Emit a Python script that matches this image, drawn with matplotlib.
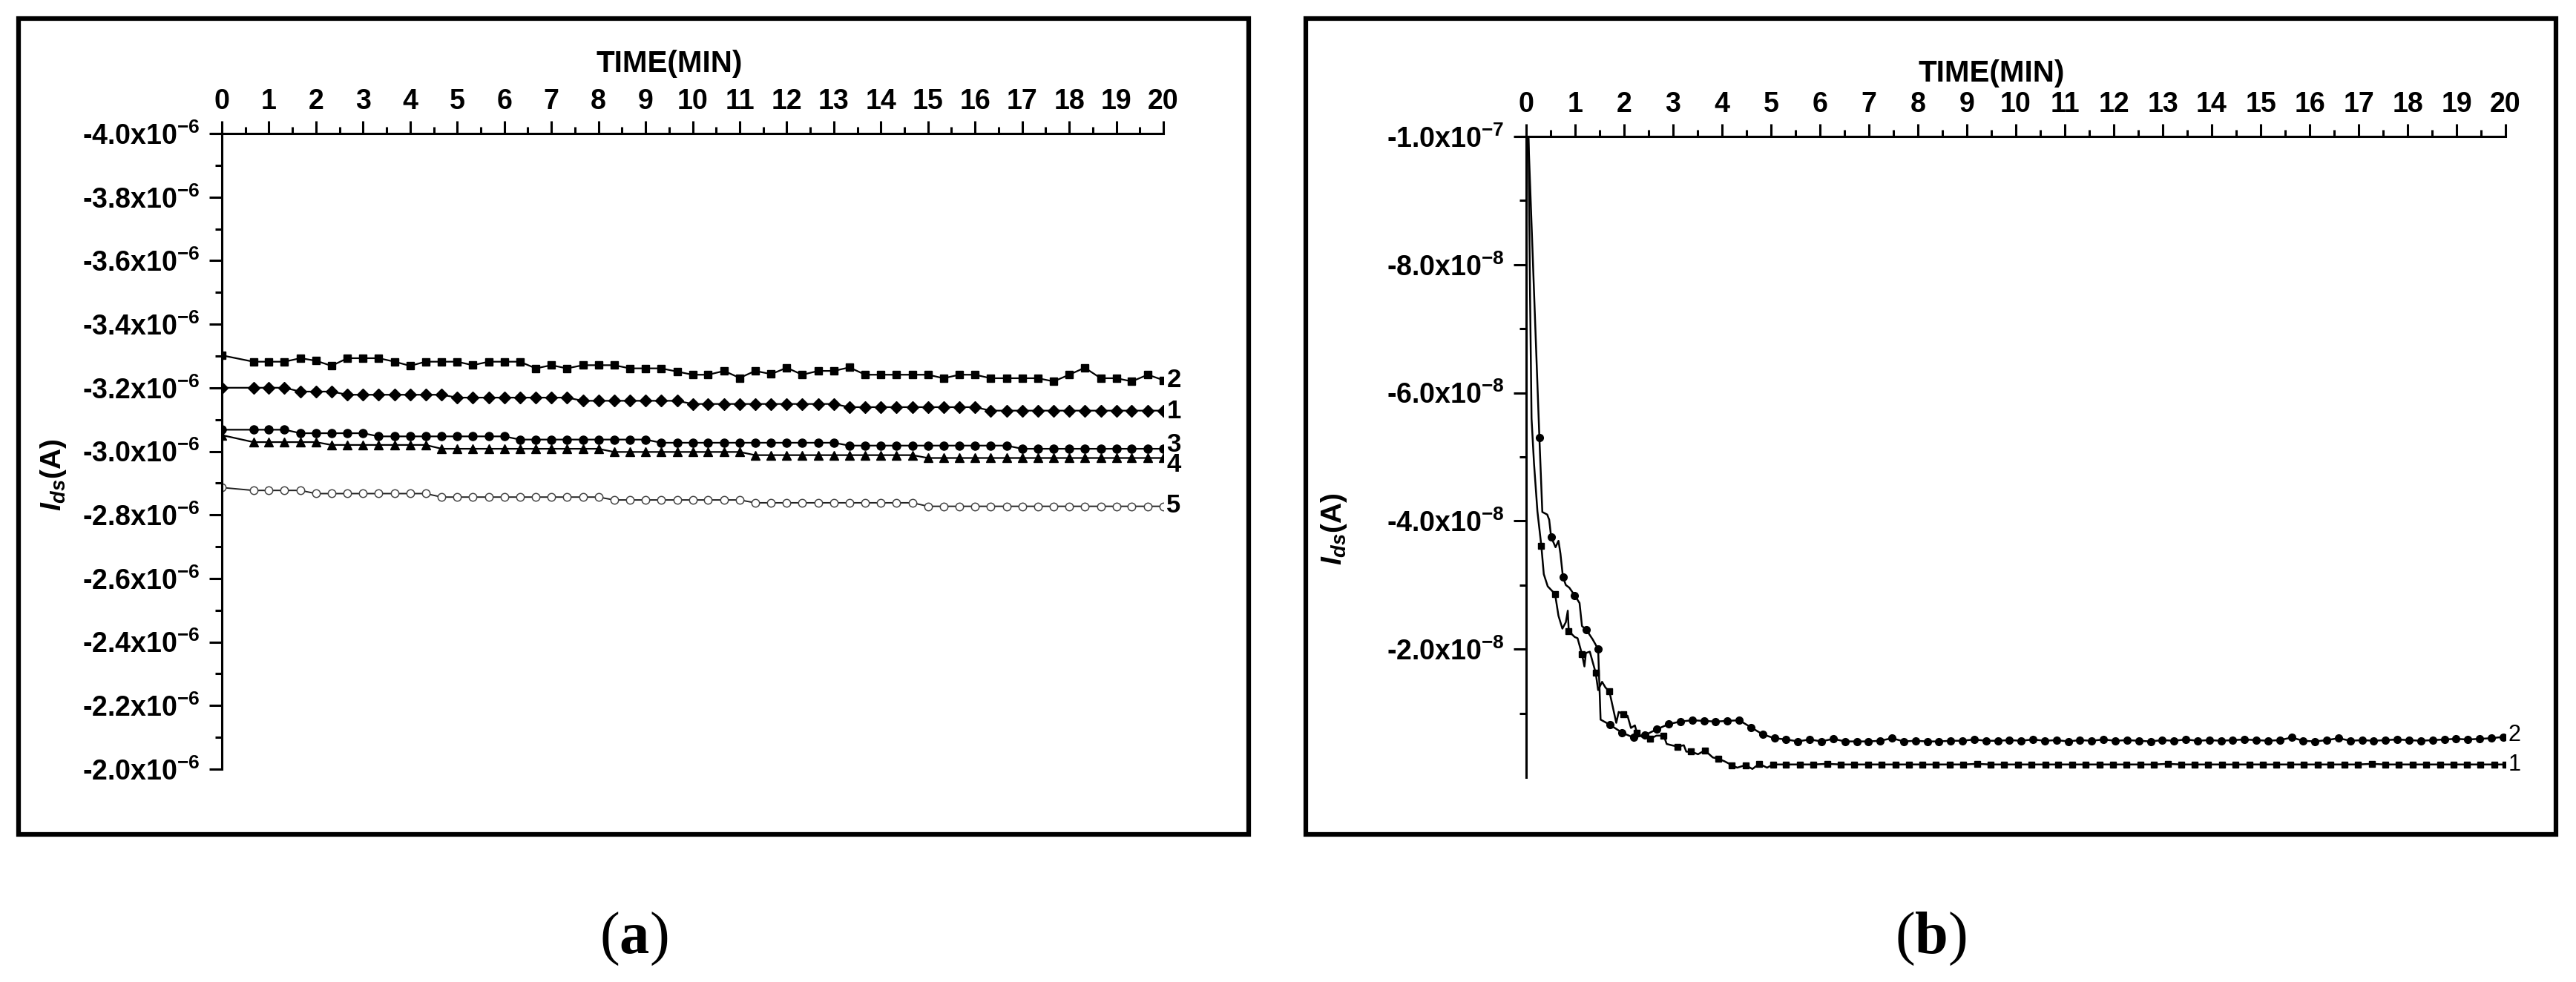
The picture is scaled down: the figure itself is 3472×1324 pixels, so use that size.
import matplotlib
matplotlib.use('Agg')
import matplotlib.pyplot as plt
import numpy as np
from matplotlib.patches import Rectangle
from matplotlib.ticker import FixedLocator, MultipleLocator

# ---------------- panel (a) data, I_ds in units of 1e-6 A ----------------
time_a = [0, 0.67, 1.0, 1.33, 1.67, 2.0, 2.33, 2.67, 3.0, 3.33, 3.67, 4.0, 4.33, 4.67,
          5.0, 5.33, 5.67, 6.0, 6.33, 6.67, 7.0, 7.33, 7.67, 8.0, 8.33, 8.67, 9.0, 9.33,
          9.67, 10.0, 10.33, 10.67, 11.0, 11.33, 11.67, 12.0, 12.33, 12.67, 13.0, 13.33,
          13.67, 14.0, 14.33, 14.67, 15.0, 15.33, 15.67, 16.0, 16.33, 16.67, 17.0, 17.33,
          17.67, 18.0, 18.33, 18.67, 19.0, 19.33, 19.67, 20.0]

ids_1 = [-3.200, -3.200, -3.200, -3.200, -3.188, -3.188, -3.188,
         -3.178, -3.178, -3.178, -3.178, -3.178, -3.178, -3.178,
         -3.169, -3.169, -3.169, -3.169, -3.169, -3.169, -3.169, -3.169,
         -3.159, -3.159, -3.159, -3.159, -3.159, -3.159, -3.159,
         -3.149, -3.149, -3.149, -3.149, -3.149, -3.149, -3.149, -3.149, -3.149, -3.149,
         -3.139, -3.139, -3.139, -3.139, -3.139, -3.139, -3.139, -3.139, -3.139,
         -3.128, -3.128, -3.128, -3.128, -3.128, -3.128, -3.128, -3.128, -3.128, -3.128,
         -3.128, -3.128]

ids_2 = [-3.302, -3.282, -3.282, -3.282, -3.293, -3.285, -3.269, -3.293, -3.293, -3.293,
         -3.282, -3.269, -3.282, -3.282, -3.282, -3.271, -3.282, -3.282, -3.282, -3.261,
         -3.271, -3.261, -3.271, -3.271, -3.271, -3.261, -3.261, -3.261, -3.251, -3.241,
         -3.241, -3.253, -3.231, -3.253, -3.243, -3.263, -3.241, -3.253, -3.253, -3.264,
         -3.241, -3.241, -3.241, -3.241, -3.241, -3.230, -3.241, -3.241, -3.230, -3.230,
         -3.230, -3.230, -3.220, -3.241, -3.263, -3.230, -3.230, -3.220, -3.241, -3.224]

ids_3 = [-3.068, -3.068, -3.068, -3.068,
         -3.057, -3.057, -3.057, -3.057, -3.057,
         -3.047, -3.047, -3.047, -3.047, -3.047, -3.047, -3.047, -3.047, -3.047,
         -3.037, -3.037, -3.037, -3.037, -3.037, -3.037, -3.037, -3.037, -3.037,
         -3.027, -3.027, -3.027, -3.027, -3.027, -3.027, -3.027, -3.027, -3.027, -3.027,
         -3.027, -3.027,
         -3.018, -3.018, -3.018, -3.018, -3.018, -3.018, -3.018, -3.018, -3.018, -3.018,
         -3.018,
         -3.008, -3.008, -3.008, -3.008, -3.008, -3.008, -3.008, -3.008, -3.008, -3.008]

ids_4 = [-3.051,
         -3.029, -3.029, -3.029, -3.029, -3.029,
         -3.020, -3.020, -3.020, -3.020, -3.020, -3.020, -3.020,
         -3.008, -3.008, -3.008, -3.008, -3.008, -3.008, -3.008, -3.008, -3.008, -3.008,
         -3.008,
         -2.998, -2.998, -2.998, -2.998, -2.998, -2.998, -2.998, -2.998, -2.998,
         -2.988, -2.988, -2.988, -2.988, -2.988, -2.988, -2.988, -2.988, -2.988, -2.988,
         -2.988,
         -2.979, -2.979, -2.979, -2.979, -2.979, -2.979, -2.979, -2.979, -2.979, -2.979,
         -2.979, -2.979, -2.979, -2.979, -2.979, -2.979]

ids_5 = [-2.886,
         -2.877, -2.877, -2.877, -2.877,
         -2.867, -2.867, -2.867, -2.867, -2.867, -2.867, -2.867, -2.867,
         -2.856, -2.856, -2.856, -2.856, -2.856, -2.856, -2.856, -2.856, -2.856, -2.856,
         -2.856,
         -2.847, -2.847, -2.847, -2.847, -2.847, -2.847, -2.847, -2.847, -2.847,
         -2.838, -2.838, -2.838, -2.838, -2.838, -2.838, -2.838, -2.838, -2.838, -2.838,
         -2.838,
         -2.827, -2.827, -2.827, -2.827, -2.827, -2.827, -2.827, -2.827, -2.827, -2.827,
         -2.827, -2.827, -2.827, -2.827, -2.827, -2.827]

labels_a = ['1', '2', '3', '4', '5']
label_pos_a = [-3.125, -3.225, -3.020, -2.957, -2.830]

yticks_a = [-4.0, -3.8, -3.6, -3.4, -3.2, -3.0, -2.8, -2.6, -2.4, -2.2, -2.0]
yminor_a = [-3.9, -3.7, -3.5, -3.3, -3.1, -2.9, -2.7, -2.5, -2.3, -2.1]

# ---------------- panel (b) data, I_ds in units of 1e-8 A ----------------
# curve 1: samples carrying a square symbol
b1_t_mark = [0.31, 0.59, 0.87, 1.14, 1.42, 1.70, 1.98, 2.26, 2.53, 2.81, 3.09, 3.37,
             3.65, 3.92, 4.20, 4.48, 4.76, 5.04, 5.31, 5.59, 5.87, 6.15, 6.43, 6.70,
             6.98, 7.26, 7.54, 7.82, 8.09, 8.37, 8.65, 8.93, 9.21, 9.48, 9.76, 10.04,
             10.32, 10.60, 10.87, 11.15, 11.43, 11.71, 11.99, 12.26, 12.54, 12.82, 13.10,
             13.38, 13.65, 13.93, 14.21, 14.49, 14.77, 15.04, 15.32, 15.60, 15.88, 16.16,
             16.43, 16.71, 16.99, 17.27, 17.55, 17.82, 18.10, 18.38, 18.66, 18.94, 19.21,
             19.49, 19.77, 20.00]
b1_i_mark = [-3.61, -2.86, -2.28, -1.92, -1.63, -1.34, -0.98, -0.70, -0.60, -0.65, -0.48,
             -0.40, -0.42, -0.29, -0.19, -0.19, -0.21, -0.20,
             -0.20, -0.20, -0.20, -0.21, -0.20, -0.20, -0.20, -0.20, -0.20,
             -0.20, -0.20, -0.20, -0.20, -0.20, -0.21, -0.20, -0.20, -0.20,
             -0.20, -0.20, -0.20, -0.20, -0.20, -0.20, -0.20, -0.20, -0.20,
             -0.20, -0.21, -0.20, -0.20, -0.20, -0.20, -0.20, -0.20, -0.20,
             -0.20, -0.20, -0.20, -0.20, -0.20, -0.20, -0.20, -0.21, -0.20,
             -0.20, -0.20, -0.20, -0.20, -0.20, -0.20, -0.20, -0.20, -0.20]
# curve 1: noisy samples in between (no symbol)
b1_t_extra = [0.04, 0.08, 0.11, 0.16, 0.23, 0.36, 0.44, 0.66, 0.74, 0.81, 0.85, 0.99,
              1.05, 1.19, 1.22, 1.30, 1.47, 1.55, 1.62, 1.76, 1.84, 1.89, 2.07, 2.14,
              2.22, 2.37, 2.45, 2.66, 2.87, 2.97, 3.22, 3.27, 3.51, 3.81, 4.05, 4.31,
              4.62, 4.92]
b1_i_extra = [-10.5, -7.5, -5.6, -4.9, -4.15, -3.17, -2.98, -2.52, -2.32, -2.42, -2.60,
              -2.19, -2.17, -1.73, -1.94, -1.96, -1.36, -1.49, -1.40, -1.13, -0.85, -1.02,
              -0.96, -0.77, -0.81, -0.63, -0.62, -0.65, -0.52, -0.50, -0.50, -0.40, -0.36,
              -0.31, -0.25, -0.15, -0.13, -0.15]

# curve 2: samples carrying a round symbol
b2_t_mark = [0.27, 0.51, 0.75, 0.99, 1.23, 1.47, 1.71, 1.95, 2.19, 2.43, 2.67, 2.91,
             3.15, 3.39, 3.63, 3.87, 4.11, 4.35, 4.59, 4.83, 5.07, 5.31, 5.55, 5.79,
             6.03, 6.27, 6.51, 6.75, 6.99, 7.23, 7.47, 7.71, 7.95, 8.19, 8.43, 8.67,
             8.91, 9.15, 9.39, 9.63, 9.87, 10.11, 10.35, 10.59, 10.83, 11.07, 11.31,
             11.55, 11.79, 12.03, 12.27, 12.51, 12.75, 12.99, 13.23, 13.47, 13.71, 13.95,
             14.19, 14.43, 14.67, 14.91, 15.15, 15.39, 15.63, 15.87, 16.11, 16.35, 16.59,
             16.83, 17.07, 17.31, 17.55, 17.79, 18.03, 18.27, 18.51, 18.75, 18.99, 19.23,
             19.47, 19.71, 19.95]
b2_i_mark = [-5.30, -3.75, -3.13, -2.84, -2.30, -2.00, -0.82, -0.70, -0.62, -0.66,
             -0.75, -0.83, -0.87, -0.89, -0.88, -0.87, -0.88, -0.89, -0.78, -0.67,
             -0.61, -0.59, -0.56, -0.59, -0.56, -0.60, -0.56, -0.56, -0.56, -0.57,
             -0.61, -0.56, -0.57, -0.56, -0.56, -0.57, -0.57, -0.59, -0.57, -0.57,
             -0.58, -0.57, -0.59, -0.57, -0.58, -0.56, -0.58, -0.57, -0.59, -0.57,
             -0.58, -0.57, -0.56, -0.58, -0.57, -0.59, -0.57, -0.58, -0.57, -0.58,
             -0.59, -0.58, -0.57, -0.58, -0.62, -0.57, -0.56, -0.58, -0.61, -0.57,
             -0.58, -0.57, -0.58, -0.59, -0.58, -0.57, -0.58, -0.59, -0.60, -0.59,
             -0.60, -0.61, -0.63]
b2_t_extra = [0.02, 0.33, 0.43, 0.47, 0.60, 0.66, 0.70, 0.81, 0.88, 1.09, 1.14, 1.36, 1.52]
b2_i_extra = [-10.5, -4.14, -4.10, -4.02, -3.59, -3.69, -3.49, -3.00, -2.96, -2.72,
              -2.36, -2.15, -0.90]

labels_b = ['2', '1']
label_pos_b = [-0.66, -0.20]

yticks_b = [-10, -8, -6, -4, -2]
ytick_text_b = ['-1.0x10$^{\\mathregular{-7}}$', '-8.0x10$^{\\mathregular{-8}}$',
                '-6.0x10$^{\\mathregular{-8}}$', '-4.0x10$^{\\mathregular{-8}}$',
                '-2.0x10$^{\\mathregular{-8}}$']
yminor_b = [-9, -7, -5, -3, -1]

# ---------------- style ----------------
plt.rcParams['font.family'] = ['Liberation Sans', 'DejaVu Sans']
plt.rcParams['font.weight'] = 'bold'
plt.rcParams['mathtext.fontset'] = 'custom'
plt.rcParams['mathtext.it'] = 'Liberation Sans:italic:bold'
plt.rcParams['mathtext.rm'] = 'Liberation Sans:bold'
plt.rcParams['mathtext.bf'] = 'Liberation Serif:bold'

W, H = 3472, 1324
fig = plt.figure(figsize=(W / 100, H / 100), dpi=100)


def px_rect(x0, y0, x1, y1):
    # pixel box (top-left origin) -> figure fraction [l, b, w, h]
    return [x0 / W, 1 - y1 / H, (x1 - x0) / W, (y1 - y0) / H]


def style_axes(ax, yticks, yticklabels, yminor, scale, xlab_y):
    ax.set_xlim(0, 20)
    for s in ['right', 'bottom']:
        ax.spines[s].set_visible(False)
    for s in ['left', 'top']:
        ax.spines[s].set_linewidth(2.2)
    ax.xaxis.tick_top()
    ax.xaxis.set_label_position('top')
    ax.set_xticks(range(0, 21))
    ax.xaxis.set_minor_locator(MultipleLocator(0.5))
    ax.set_yticks([v * scale for v in yticks])
    ax.set_yticklabels(yticklabels)
    ax.yaxis.set_minor_locator(FixedLocator([v * scale for v in yminor]))
    ax.tick_params(which='major', length=12, width=2.2, labelsize=27, direction='out')
    ax.tick_params(which='minor', length=6.5, width=2.2, direction='out')
    ax.tick_params(axis='x', pad=6)
    ax.tick_params(axis='y', pad=9)
    ax.set_xlabel('TIME(MIN)', fontsize=29, fontweight='bold')
    ax.xaxis.set_label_coords(0.475, xlab_y)
    # the x axis line runs slightly past the y axis, as in the original
    ax.plot([-0.012, 0], [1, 1], transform=ax.transAxes, clip_on=False,
            color='black', lw=2.2, solid_capstyle='butt')


def merge(t_mark, i_mark, t_extra, i_extra):
    t = np.array(t_mark + t_extra)
    v = np.array(i_mark + i_extra)
    flag = np.array([True] * len(t_mark) + [False] * len(t_extra))
    order = np.argsort(t, kind='stable')
    return t[order], v[order], list(np.flatnonzero(flag[order]))


# ---------------- panel (a) ----------------
ax_a = fig.add_axes(px_rect(299, 180, 1568, 1037))
ta = np.array(time_a)
line_kw = dict(color='black', lw=1.6)
ax_a.plot(ta, np.array(ids_2) * 1e-6, marker='s', ms=7.5, **line_kw)
ax_a.plot(ta, np.array(ids_1) * 1e-6, marker='D', ms=8, **line_kw)
ax_a.plot(ta, np.array(ids_3) * 1e-6, marker='o', ms=8, **line_kw)
ax_a.plot(ta, np.array(ids_4) * 1e-6, marker='^', ms=8.5, **line_kw)
ax_a.plot(ta, np.array(ids_5) * 1e-6, marker='o', ms=7.5, mfc='white', mec='#444444',
          mew=1.1, color='#222222', lw=1.4)
ax_a.set_ylim(-2.0e-6, -4.0e-6)
ytext_a = ['%.1fx10$^{\\mathregular{-6}}$' % v for v in yticks_a]
style_axes(ax_a, yticks_a, ytext_a, yminor_a, 1e-6, 1.097)
ax_a.set_ylabel('$I_{ds}$(A)', fontsize=28, fontweight='bold')
ax_a.yaxis.set_label_coords(-0.163, 0.463)
for lab, pos in zip(labels_a, label_pos_a):
    ax_a.text(20.07, pos * 1e-6, lab, fontsize=25, fontweight='bold',
              ha='left', va='center', clip_on=False)

# ---------------- panel (b) ----------------
ax_b = fig.add_axes(px_rect(2057, 184, 3377, 1048))
t1, v1, m1 = merge(b1_t_mark, b1_i_mark, b1_t_extra, b1_i_extra)
t2, v2, m2 = merge(b2_t_mark, b2_i_mark, b2_t_extra, b2_i_extra)
ax_b.plot(t1, v1 * 1e-8, marker='s', ms=6, markevery=m1, color='black', lw=1.8)
ax_b.plot(t2, v2 * 1e-8, marker='o', ms=7, markevery=m2, color='black', lw=1.8)
ax_b.set_ylim(0, -1.0e-7)
style_axes(ax_b, yticks_b, ytick_text_b, yminor_b, 1e-8, 1.086)
ax_b.set_ylabel('$I_{ds}$(A)', fontsize=28, fontweight='bold')
ax_b.yaxis.set_label_coords(-0.181, 0.388)
for lab, pos in zip(labels_b, label_pos_b):
    ax_b.text(20.05, pos * 1e-8, lab, fontsize=22, fontweight='normal',
              ha='left', va='center', clip_on=False)

# ---------------- outer frames and captions ----------------
for x0, x1 in [(25, 1683), (1760, 3445)]:
    l, b, w, h = px_rect(x0, 25, x1, 1125)
    fig.add_artist(Rectangle((l, b), w, h, transform=fig.transFigure,
                             fill=False, lw=4.5, edgecolor='black'))

fig.text(854 / W, 1 - 1266 / H, '($\\mathbf{a}$)', fontsize=58, family='Liberation Serif',
         fontweight='normal', ha='center', va='center')
fig.text(2602 / W, 1 - 1266 / H, '($\\mathbf{b}$)', fontsize=58, family='Liberation Serif',
         fontweight='normal', ha='center', va='center')

fig.savefig('out.png', dpi=100, facecolor='white')
